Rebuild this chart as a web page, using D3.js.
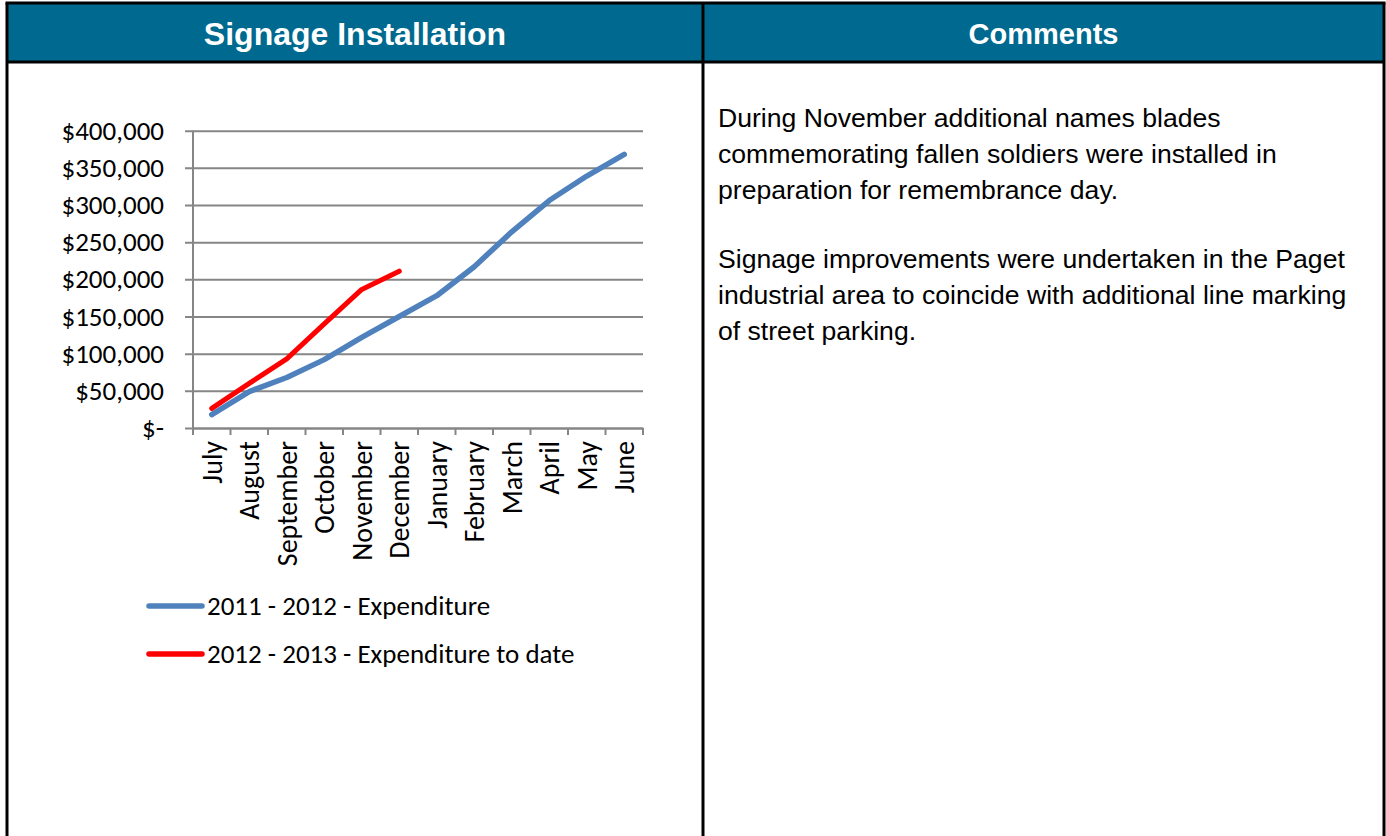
<!DOCTYPE html>
<html>
<head>
<meta charset="utf-8">
<script src="https://cdn.jsdelivr.net/npm/d3@7"></script>
<style>
  html, body { margin: 0; padding: 0; background: #ffffff; }
  svg { display: block; }
</style>
</head>
<body>
<svg id="chart" width="1386" height="836"></svg>
<script>
// ---- Data ----
const months = ["July", "August", "September", "October", "November", "December",
                "January", "February", "March", "April", "May", "June"];
const expenditure2011 = [18000, 49000, 68000, 92000, 122000, 150000,
                         178000, 217000, 264000, 306000, 339000, 368000];
const expenditure2012 = [26500, 60000, 93000, 140000, 186500, 211000];
const yTicks = [0, 50000, 100000, 150000, 200000, 250000, 300000, 350000, 400000];
const seriesNames = ["2011 - 2012 - Expenditure", "2012 - 2013 - Expenditure to date"];
const seriesColors = ["#4F81BD", "#FF0000"];
const headerTitles = ["Signage Installation", "Comments"];
const commentParagraphs = [
  ["During November additional names blades",
   "commemorating fallen soldiers were installed in",
   "preparation for remembrance day."],
  ["Signage improvements were undertaken in the Paget",
   "industrial area to coincide with additional line marking",
   "of street parking."]
];

const svg = d3.select("#chart");
const headerColor = "#00698F";
const axisFont = "Carlito, Calibri, 'Open Sans', sans-serif";
const bodyFont = "'Liberation Sans', Arial, sans-serif";
const axisSize = 27;

// ---- Table frame ----
const tblLeft = 7, tblRight = 1384, tblTop = 3, hdrBottom = 62, divX = 703;
svg.append("rect").attr("x", tblLeft).attr("y", tblTop)
  .attr("width", tblRight - tblLeft).attr("height", hdrBottom - tblTop)
  .attr("fill", headerColor);
const border = svg.append("g").attr("stroke", "#000").attr("stroke-width", 3).attr("fill", "none");
border.append("line").attr("x1", tblLeft - 1.5).attr("x2", tblRight + 1.5).attr("y1", tblTop).attr("y2", tblTop);
border.append("line").attr("x1", tblLeft).attr("x2", tblRight).attr("y1", hdrBottom).attr("y2", hdrBottom);
border.append("line").attr("x1", tblLeft).attr("x2", tblLeft).attr("y1", tblTop).attr("y2", 840);
border.append("line").attr("x1", tblRight).attr("x2", tblRight).attr("y1", tblTop).attr("y2", 840);
border.append("line").attr("x1", divX).attr("x2", divX).attr("y1", tblTop).attr("y2", 840);

// header text
const colCenters = [(tblLeft + divX) / 2, (divX + tblRight) / 2];
const headerSizes = [32, 29];
svg.selectAll("text.hdr").data(headerTitles).join("text")
  .attr("class", "hdr")
  .attr("x", (d, i) => colCenters[i]).attr("y", 34)
  .attr("dy", "0.35em")
  .attr("text-anchor", "middle")
  .attr("fill", "#fff")
  .attr("font-family", bodyFont)
  .attr("font-weight", "bold")
  .attr("font-size", (d, i) => headerSizes[i])
  .text(d => d);

// ---- Chart ----
const plot = { left: 193, right: 643, top: 130.7, bottom: 428 };
const x = d3.scaleBand().domain(months).range([plot.left, plot.right]).padding(0);
const y = d3.scaleLinear().domain([0, 400000]).range([plot.bottom, plot.top]);

const fmt = v => v === 0 ? "$-" : "$" + d3.format(",")(v);

// gridlines + y axis
const yAxis = d3.axisLeft(y).tickValues(yTicks).tickSize(-(plot.right - plot.left)).tickFormat(fmt).tickPadding(0);
const gy = svg.append("g").attr("transform", `translate(${plot.left},0)`).call(yAxis);
gy.select(".domain").remove();
gy.selectAll(".tick line").attr("stroke", "#868686").attr("stroke-width", 2).attr("x1", -8);
gy.selectAll(".tick text").attr("x", -29).attr("font-family", axisFont).attr("font-size", axisSize).attr("fill", "#000");

// vertical axis line
svg.append("line").attr("x1", plot.left).attr("x2", plot.left)
  .attr("y1", plot.top).attr("y2", plot.bottom)
  .attr("stroke", "#868686").attr("stroke-width", 2);

// x axis
const xAxis = d3.axisBottom(x).tickSize(0).tickPadding(0);
const gx = svg.append("g").attr("transform", `translate(0,${plot.bottom})`).call(xAxis);
gx.select(".domain").attr("stroke", "#868686").attr("stroke-width", 2);
gx.selectAll(".tick text")
  .attr("font-family", axisFont).attr("font-size", 28).attr("fill", "#000")
  .attr("text-anchor", "end")
  .attr("transform", "translate(0,13) rotate(-90)")
  .attr("x", 0).attr("y", 0).attr("dy", "0.35em");
const bounds = months.map(m => x(m)).concat([plot.right]);
svg.append("g").selectAll("line").data(bounds).join("line")
  .attr("x1", d => d).attr("x2", d => d)
  .attr("y1", plot.bottom).attr("y2", plot.bottom + 7)
  .attr("stroke", "#868686").attr("stroke-width", 2);

// lines
const cx = m => x(m) + x.bandwidth() / 2;
const lineGen = d3.line().x(d => cx(d.m)).y(d => y(d.v));
const series = [
  expenditure2011.map((v, i) => ({ m: months[i], v })),
  expenditure2012.map((v, i) => ({ m: months[i], v }))
];
svg.append("g").selectAll("path").data(series).join("path")
  .attr("d", lineGen)
  .attr("fill", "none")
  .attr("stroke", (d, i) => seriesColors[i])
  .attr("stroke-width", (d, i) => i === 0 ? 5.5 : 5)
  .attr("stroke-linecap", "round")
  .attr("stroke-linejoin", "round");

// legend
const legendY = [606, 654];
const lg = svg.append("g").selectAll("g").data(seriesNames).join("g")
  .attr("transform", (d, i) => `translate(0,${legendY[i]})`);
lg.append("line").attr("x1", 149).attr("x2", 202).attr("y1", 0).attr("y2", 0)
  .attr("stroke", (d, i) => seriesColors[i]).attr("stroke-width", 5.5).attr("stroke-linecap", "round");
lg.append("text").attr("x", 207).attr("y", 0).attr("dy", "0.35em")
  .attr("font-family", axisFont).attr("font-size", axisSize).attr("fill", "#000")
  .text(d => d);

// ---- Comments ----
const paraStart = [127, 268];
const lineH = 36;
commentParagraphs.forEach((para, p) => {
  svg.append("g").selectAll("text").data(para).join("text")
    .attr("x", 718).attr("y", (d, i) => paraStart[p] + i * lineH)
    .attr("font-family", bodyFont).attr("font-size", 26.6).attr("fill", "#000")
    .text(d => d);
});
</script>
</body>
</html>
